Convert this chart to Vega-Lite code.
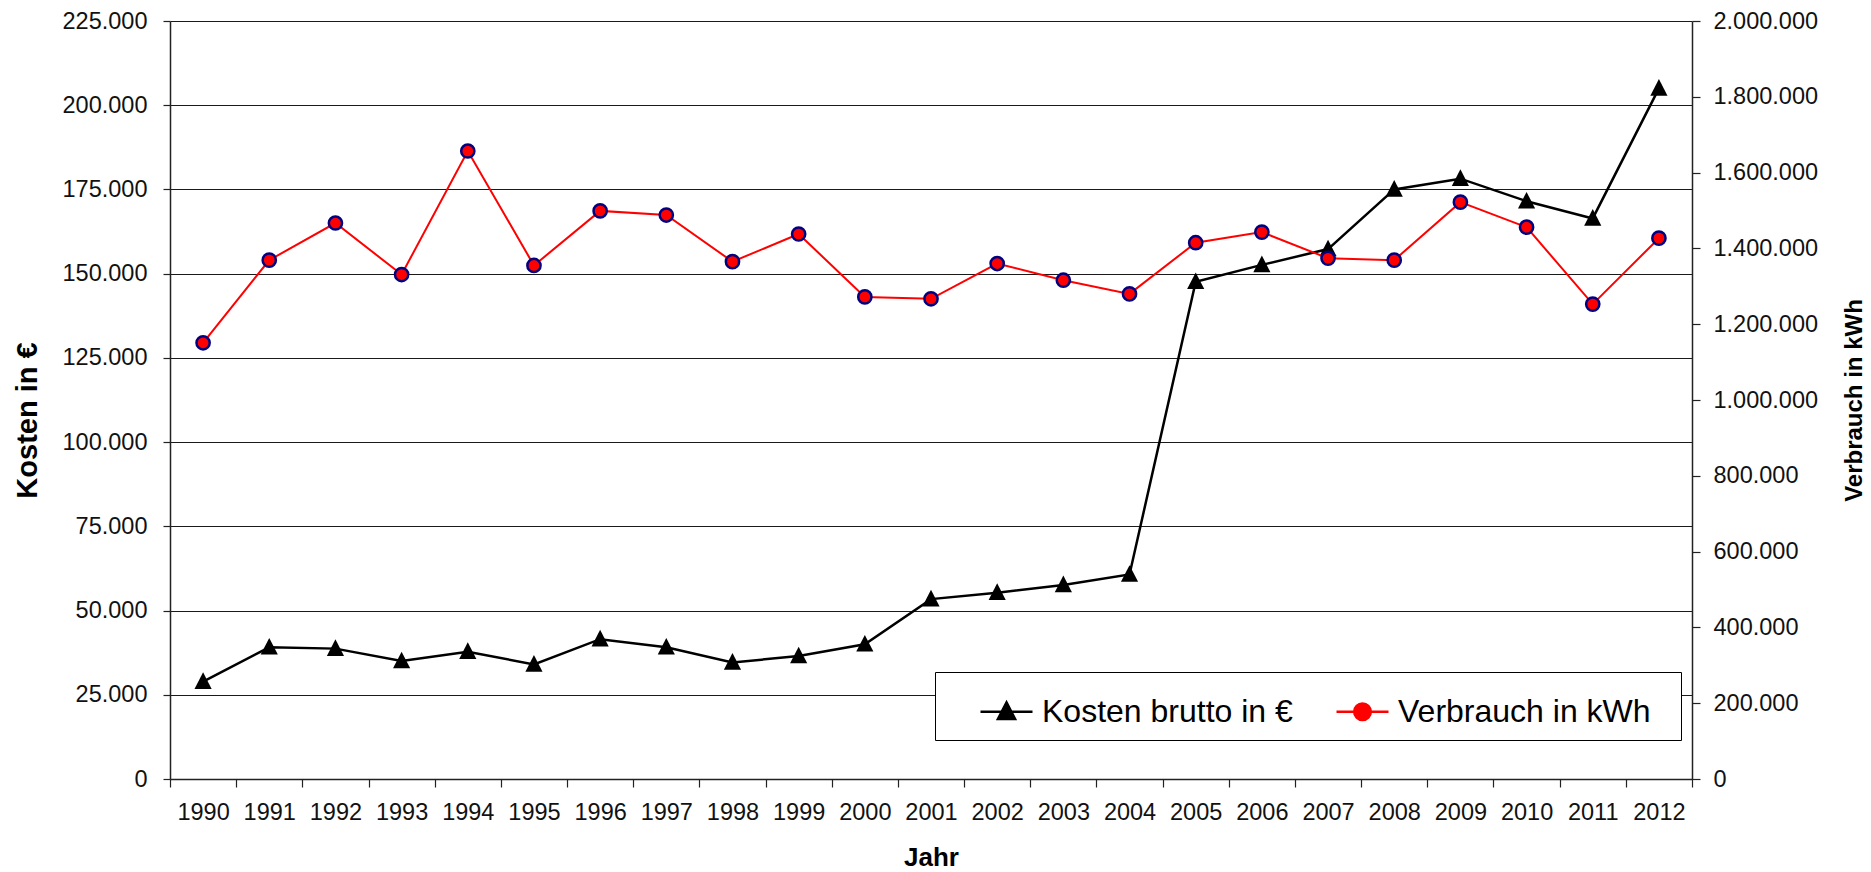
{
  "$schema": "https://vega.github.io/schema/vega-lite/v6.json",
  "autosize": {"type": "none"},
  "width": 1522,
  "height": 758,
  "padding": {"left": 170, "top": 21, "right": 179, "bottom": 93},
  "background": "white",
  "config": {
    "font": "Liberation Sans",
    "view": {"stroke": null},
    "locale": {"number": {"decimal": ",", "thousands": ".", "grouping": [3], "currency": ["", "\u00a0€"]}},
    "axis": {"labelFont": "Liberation Sans", "titleFont": "Liberation Sans", "labelColor": "#111", "titleColor": "#000", "domainColor": "#222", "tickColor": "#222", "domainWidth": 1.5, "tickWidth": 1.2}
  },
  "data": {"values": [
    {"Jahr": 1990, "Kosten": 28900, "Verbrauch": 1151000},
    {"Jahr": 1991, "Kosten": 39100, "Verbrauch": 1369000},
    {"Jahr": 1992, "Kosten": 38700, "Verbrauch": 1467000},
    {"Jahr": 1993, "Kosten": 35000, "Verbrauch": 1331000},
    {"Jahr": 1994, "Kosten": 37800, "Verbrauch": 1657000},
    {"Jahr": 1995, "Kosten": 34000, "Verbrauch": 1355000},
    {"Jahr": 1996, "Kosten": 41500, "Verbrauch": 1499000},
    {"Jahr": 1997, "Kosten": 39100, "Verbrauch": 1488000},
    {"Jahr": 1998, "Kosten": 34600, "Verbrauch": 1365000},
    {"Jahr": 1999, "Kosten": 36500, "Verbrauch": 1438000},
    {"Jahr": 2000, "Kosten": 40000, "Verbrauch": 1272000},
    {"Jahr": 2001, "Kosten": 53400, "Verbrauch": 1267000},
    {"Jahr": 2002, "Kosten": 55300, "Verbrauch": 1360000},
    {"Jahr": 2003, "Kosten": 57600, "Verbrauch": 1316000},
    {"Jahr": 2004, "Kosten": 60700, "Verbrauch": 1280000},
    {"Jahr": 2005, "Kosten": 147600, "Verbrauch": 1415000},
    {"Jahr": 2006, "Kosten": 152600, "Verbrauch": 1443000},
    {"Jahr": 2007, "Kosten": 157300, "Verbrauch": 1374000},
    {"Jahr": 2008, "Kosten": 175000, "Verbrauch": 1369000},
    {"Jahr": 2009, "Kosten": 178200, "Verbrauch": 1522000},
    {"Jahr": 2010, "Kosten": 171500, "Verbrauch": 1456000},
    {"Jahr": 2011, "Kosten": 166400, "Verbrauch": 1253000},
    {"Jahr": 2012, "Kosten": 205000, "Verbrauch": 1427000}
  ]},
  "encoding": {
    "x": {
      "field": "Jahr", "type": "ordinal", "bandPosition": 0.5,
      "scale": {"type": "band", "paddingInner": 0, "paddingOuter": 0},
      "axis": {"title": "Jahr", "labelAngle": 0, "tickBand": "extent", "tickSize": 8, "labelPadding": 13, "labelFontSize": 23.5, "titleFontSize": 26, "titleFontWeight": "bold", "titlePadding": 21, "grid": false}
    }
  },
  "layer": [
    {
      "encoding": {
        "y": {
          "field": "Kosten", "type": "quantitative",
          "scale": {"domain": [0, 225000], "nice": false, "zero": true},
          "axis": {"orient": "left", "values": [0, 25000, 50000, 75000, 100000, 125000, 150000, 175000, 200000, 225000], "format": ",d", "grid": true, "gridColor": "#1a1a1a", "gridWidth": 1, "tickSize": 7, "labelPadding": 16, "labelFontSize": 23.5, "title": "Kosten in €", "titleFontSize": 29, "titleFontWeight": "bold", "titlePadding": 20, "titleY": 399}
        }
      },
      "layer": [
        {
          "mark": {"type": "line", "strokeWidth": 2.5},
          "encoding": {
            "color": {
              "datum": "Kosten brutto in €",
              "scale": {"domain": ["Kosten brutto in €", "Verbrauch in kWh"], "range": ["black", "red"]},
              "legend": {
                "orient": "none", "legendX": 765, "legendY": 651, "direction": "horizontal", "title": null,
                "padding": 12, "fillColor": "white", "strokeColor": "black",
                "symbolSize": 2704, "symbolOffset": 32, "labelOffset": 8, "columnPadding": 10,
                "labelFontSize": 32, "labelFont": "Liberation Sans", "labelColor": "black", "labelLimit": 0,
                "symbolStrokeWidth": 2.5,
                "labelExpr": "datum.index == 1 ? datum.label + '\u00a0\u00a0\u200b' : datum.label",
                "encode": {"symbols": {"update": {
                  "shape": {"signal": "datum.index == 0 ? 'M-1,0H1M0,-0.36L0.33,0.28L-0.33,0.28Z' : 'M-1,0H1M0.32,0A0.32,0.32,0,1,1,-0.32,0A0.32,0.32,0,1,1,0.32,0Z'"},
                  "fill": {"signal": "datum.index == 0 ? 'black' : 'red'"},
                  "stroke": {"signal": "datum.index == 0 ? 'black' : 'red'"},
                  "strokeWidth": {"value": 2.5},
                  "fillOpacity": {"value": 1},
                  "strokeOpacity": {"value": 1},
                  "opacity": {"value": 1}
                }}}
              }
            }
          }
        },
        {
          "mark": {"type": "point", "shape": "M0,-0.36L0.33,0.28L-0.33,0.28Z", "filled": true, "fill": "black", "size": 2704, "opacity": 1}
        }
      ]
    },
    {
      "encoding": {
        "y": {
          "field": "Verbrauch", "type": "quantitative",
          "scale": {"domain": [0, 2000000], "nice": false, "zero": true},
          "axis": {"orient": "right", "values": [0, 200000, 400000, 600000, 800000, 1000000, 1200000, 1400000, 1600000, 1800000, 2000000], "format": ",d", "grid": false, "tickSize": 8, "labelPadding": 13, "labelFontSize": 23.5, "title": "Verbrauch in kWh", "titleFontSize": 24, "titleFontWeight": "bold", "titleAngle": 270, "titleBaseline": "top", "titlePadding": 25}
        }
      },
      "layer": [
        {
          "mark": {"type": "line", "strokeWidth": 2},
          "encoding": {"color": {"datum": "Verbrauch in kWh"}}
        },
        {
          "mark": {"type": "point", "shape": "circle", "filled": true, "fill": "red", "stroke": "#000080", "strokeWidth": 2.5, "size": 175, "opacity": 1}
        }
      ]
    }
  ],
  "resolve": {"scale": {"y": "independent"}}
}
